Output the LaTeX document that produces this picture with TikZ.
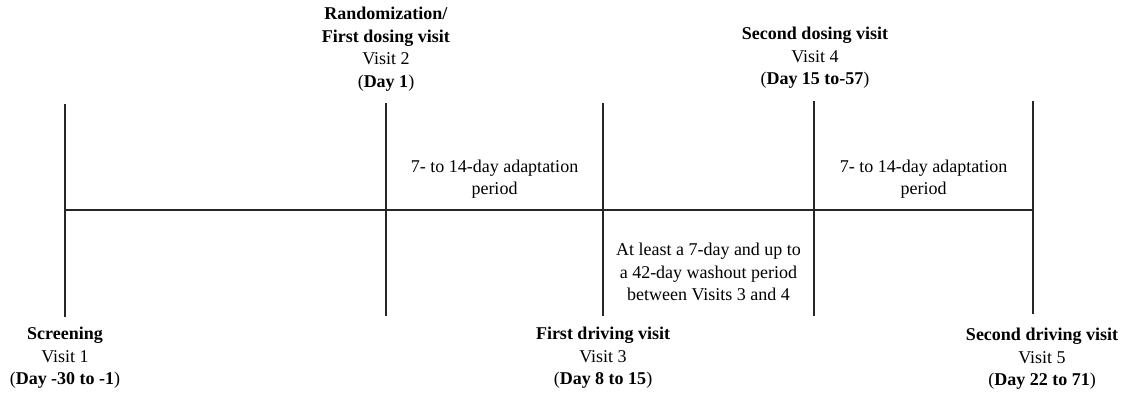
\documentclass[tikz,border=0pt]{standalone}
\usepackage{fontspec}
\setmainfont{Liberation Serif}
\usepackage{xcolor}
\usetikzlibrary{calc}

\tikzset{
  tick/.style={line width=0.9pt, black!85},
  lbl/.style={align=center, inner sep=0pt, font=\fontsize{13.5}{16.9}\selectfont},
}

\begin{document}
\begin{tikzpicture}[x=0.75pt,y=-0.75pt]
  \useasboundingbox (0,0) rectangle (1122,393);

  % one vertical tick per visit, top and bottom ends
  \foreach \n/\x/\t/\b in {1/65/104/317, 2/386/103/316, 3/603/103/316, 4/814/101/316, 5/1033/101/314} {
    \coordinate (top\n) at (\x,\t);
    \coordinate (bot\n) at (\x,\b);
    \coordinate (mid\n) at (\x,210);
  }
  \foreach \n in {1,...,5}
    \draw[tick] (top\n) -- (bot\n);

  % the time axis
  \draw[tick] (mid1) -- (mid5);

  % visits above the axis
  \node[lbl] (rando) at (386,49) {\textbf{Randomization/}\\\textbf{First dosing visit}\\Visit 2\\(\textbf{Day 1})};
  \node[lbl] (dose2) at (815,58) {\textbf{Second dosing visit}\\Visit 4\\(\textbf{Day 15 to-57})};

  % visits below the axis
  \node[lbl] (screen) at (65,358) {\textbf{Screening}\\Visit 1\\(\textbf{Day -30 to -1})};
  \node[lbl] (drive1) at (603,358) {\textbf{First driving visit}\\Visit 3\\(\textbf{Day 8 to 15})};
  \node[lbl] (drive2) at (1042,359) {\textbf{Second driving visit}\\Visit 5\\(\textbf{Day 22 to 71})};

  % periods between the ticks
  \node[lbl] (adapt1) at ($(mid2)!0.5!(mid3)+(0,-31)$) {7- to 14-day adaptation\\period};
  \node[lbl] (washout) at ($(mid3)!0.5!(mid4)+(0,62)$) {At least a 7-day and up to\\a 42-day washout period\\between Visits 3 and 4};
  \node[lbl] (adapt2) at ($(mid4)!0.5!(mid5)+(0,-31)$) {7- to 14-day adaptation\\period};
\end{tikzpicture}
\end{document}
